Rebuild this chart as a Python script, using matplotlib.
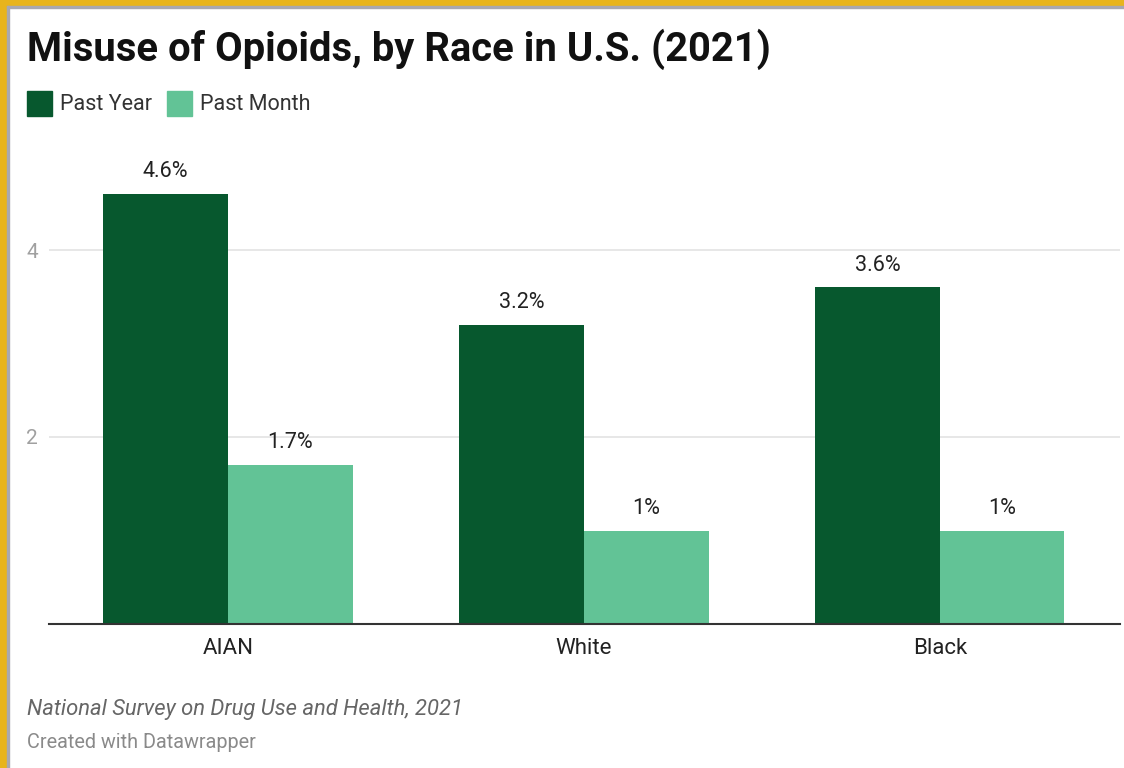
import matplotlib
matplotlib.use("Agg")
import matplotlib.pyplot as plt
from matplotlib.patches import Rectangle
import numpy as np

categories = ["AIAN", "White", "Black"]
series_names = ["Past Year", "Past Month"]
past_year = [4.6, 3.2, 3.6]
past_month = [1.7, 1.0, 1.0]
labels_year = ["4.6%", "3.2%", "3.6%"]
labels_month = ["1.7%", "1%", "1%"]
yticks = [2, 4]

c_dark = "#07582E"
c_light = "#62C396"

plt.rcParams['font.family'] = ['Roboto', 'DejaVu Sans']

W, H = 1124, 768
fig = plt.figure(figsize=(W/100, H/100), dpi=100)
fig.patch.set_facecolor("white")

# border
fig.patches.append(Rectangle((0, 0), 7/W, 1, transform=fig.transFigure, color="#E8B41C", zorder=0))
fig.patches.append(Rectangle((0, 1-6/H), 1, 6/H, transform=fig.transFigure, color="#E8B41C", zorder=0))
fig.patches.append(Rectangle((7/W, 0), 2/W, 1-6/H, transform=fig.transFigure, color="#A8A8B0", zorder=0))
fig.patches.append(Rectangle((7/W, 1-8/H), 1-7/W, 2/H, transform=fig.transFigure, color="#A8A8B0", zorder=0))

ax_left, ax_right = 49, 1120
y0, ytop = 624, 624 - 5*93.5
ax = fig.add_axes([ax_left/W, 1 - y0/H, (ax_right-ax_left)/W, (y0-ytop)/H])
x = np.arange(len(categories))
bw = 0.35
b1 = ax.bar(x - bw/2, past_year, bw, color=c_dark, zorder=2)
b2 = ax.bar(x + bw/2, past_month, bw, color=c_light, zorder=2)
for bars, labs in ((b1, labels_year), (b2, labels_month)):
    for rect, lab in zip(bars, labs):
        ax.annotate(lab, (rect.get_x()+rect.get_width()/2, rect.get_height()), xytext=(0, 16),
                    textcoords="offset points", ha="center", va="center", fontsize=15.5, color="#222222")

ax.set_xlim(-0.503, 2.506)
ax.set_ylim(0, 5)
ax.set_yticks(yticks)
ax.set_yticklabels([str(t) for t in yticks], fontsize=15, color="#A0A0A0")
ax.tick_params(axis="y", length=0, pad=8)
ax.yaxis.grid(True, color="#E3E3E3", linewidth=1.2, zorder=0)
ax.set_axisbelow(True)
ax.set_xticks(x)
ax.set_xticklabels(categories, fontsize=16, color="#222222")
ax.tick_params(axis="x", length=0, pad=10)
for s in ["top", "right", "left"]:
    ax.spines[s].set_visible(False)
ax.spines["bottom"].set_color("#333333")
ax.spines["bottom"].set_linewidth(1.5)
ax.spines["bottom"].set_zorder(3)
ax.set_facecolor("none")

# title
fig.text(27/W, 1 - 49/H, "Misuse of Opioids, by Race in U.S. (2021)", fontsize=28.8, fontweight="bold",
         ha="left", va="center", color="#111111")

# legend
for name, col, xs in zip(series_names, [c_dark, c_light], [27, 167]):
    fig.patches.append(Rectangle((xs/W, 1 - 116/H), 25/W, 25/H, transform=fig.transFigure, color=col))
    fig.text((xs+33)/W, 1 - 104/H, name, fontsize=15.5, ha="left", va="center", color="#333333")

# footer
fig.text(27/W, 1 - 709/H, "National Survey on Drug Use and Health, 2021", fontsize=15.8, style="italic",
         ha="left", va="center", color="#666666")
fig.text(27/W, 1 - 742/H, "Created with Datawrapper", fontsize=14.3, ha="left", va="center", color="#8A8A8A")

fig.savefig("out.png", dpi=100)
